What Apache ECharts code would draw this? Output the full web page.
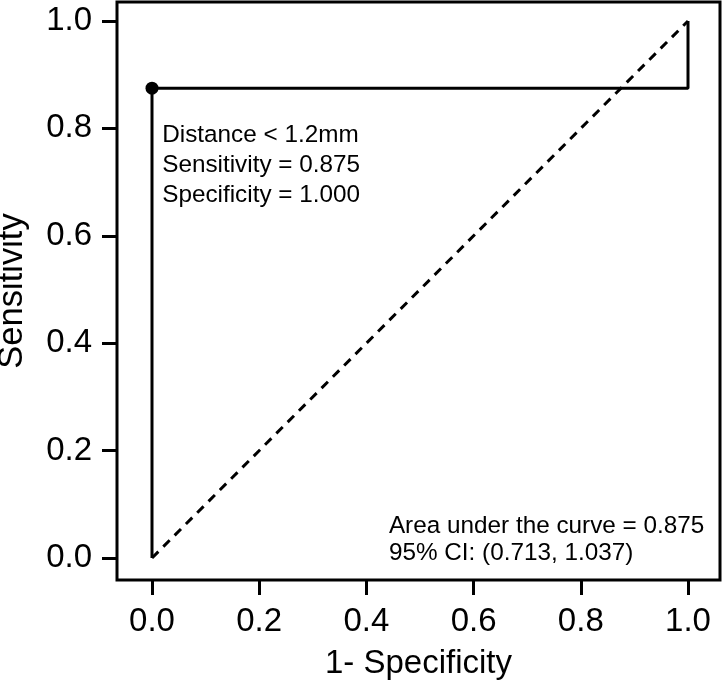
<!DOCTYPE html>
<html>
<head>
<meta charset="utf-8">
<style>html,body{margin:0;padding:0;background:#fff;}#c{width:724px;height:684px;}</style>
<script src="https://cdn.jsdelivr.net/npm/echarts@6/dist/echarts.min.js"></script>
</head>
<body>
<div id="c"></div>
<script>
// ROC curve points (1 - specificity, sensitivity)
const rocX = [0, 0, 1, 1];
const rocY = [0, 0.875, 0.875, 1];
// chance diagonal
const diagX = [0, 1];
const diagY = [0, 1];
// optimal cut-off point
const cutX = [0];
const cutY = [0.875];
// tick values
const tickValues = [0, 0.2, 0.4, 0.6, 0.8, 1.0];
// annotation texts and anchor coordinates
const noteLeft = ['Distance < 1.2mm', 'Sensitivity = 0.875', 'Specificity = 1.000'];
const noteLeftAt = [0.019, 0.732];
const noteRight = ['Area under the curve = 0.875', '95% CI: (0.713, 1.037)'];
const noteRightAt = [0.442, 0.034];

const FONT = 'Liberation Sans, Arial, Helvetica, sans-serif';
const chart = echarts.init(document.getElementById('c'), null, {renderer: 'canvas'});
const zip = (a, b) => a.map((v, i) => [v, b[i]]);

chart.setOption({
  animation: false,
  backgroundColor: '#fff',
  grid: {left: 117, right: 4, top: 2, bottom: 104, show: true, borderColor: '#000', borderWidth: 3, backgroundColor: 'transparent', containLabel: false, outerBoundsMode: 'none'},
  xAxis: {
    type: 'value', min: -0.0653, max: 1.0597,
    name: '1- Specificity', nameLocation: 'middle', nameGap: 67,
    nameTextStyle: {fontFamily: FONT, fontSize: 33, color: '#000'},
    axisLine: {show: false, onZero: false},
    splitLine: {show: false},
    axisTick: {show: true, inside: false, length: 15, lineStyle: {color: '#000', width: 3}, customValues: tickValues},
    axisLabel: {margin: 25, fontFamily: FONT, fontSize: 33, color: '#000', customValues: tickValues, formatter: v => v.toFixed(1)}
  },
  yAxis: {
    type: 'value', min: -0.041, max: 1.0354,
    name: 'Sensitivity', nameLocation: 'middle', nameGap: 87, nameRotate: 90,
    nameTextStyle: {fontFamily: FONT, fontSize: 34.5, color: '#000'},
    axisLine: {show: false, onZero: false},
    splitLine: {show: false},
    axisTick: {show: true, inside: false, length: 15, lineStyle: {color: '#000', width: 3}, customValues: tickValues},
    axisLabel: {margin: 25, fontFamily: FONT, fontSize: 33, color: '#000', customValues: tickValues, formatter: v => v.toFixed(1)}
  },
  series: [
    {
      type: 'line', data: zip(diagX, diagY), symbol: 'none', silent: true,
      lineStyle: {color: '#000', width: 3, type: [9, 7]}
    },
    {
      type: 'line', data: zip(rocX, rocY), symbol: 'none', silent: true,
      lineStyle: {color: '#000', width: 3}
    },
    {
      type: 'scatter', data: zip(cutX, cutY), symbol: 'circle', symbolSize: 13, silent: true,
      itemStyle: {color: '#000', opacity: 1}
    },
    {
      type: 'scatter', symbolSize: 0, silent: true,
      itemStyle: {color: '#000', opacity: 1},
      data: [
        {value: noteLeftAt, label: {show: true, position: 'inside', align: 'left', verticalAlign: 'middle', formatter: noteLeft.join('\n'), lineHeight: 30, fontSize: 24.3, fontFamily: FONT, color: '#000', opacity: 1}},
        {value: noteRightAt, label: {show: true, position: 'inside', align: 'left', verticalAlign: 'middle', formatter: noteRight.join('\n'), lineHeight: 27, fontSize: 24.3, fontFamily: FONT, color: '#000', opacity: 1}}
      ]
    }
  ]
});
</script>
</body>
</html>
